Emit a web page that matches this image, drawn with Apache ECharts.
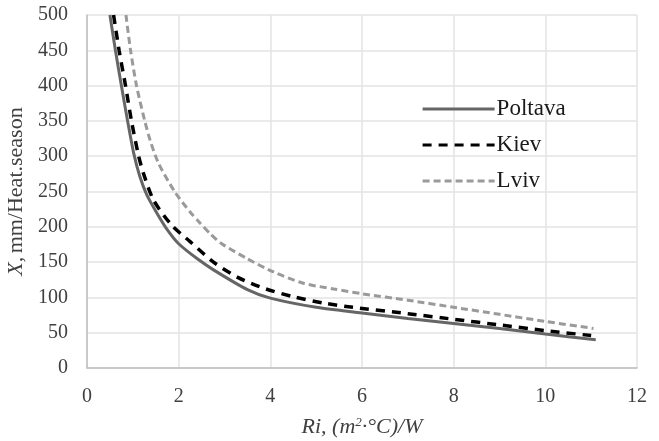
<!DOCTYPE html>
<html>
<head>
    <meta charset="utf-8" />
    <title>ri_chart</title>
    <script src="https://cdn.jsdelivr.net/npm/echarts@6/dist/echarts.min.js"></script>
    <style>
        html, body { margin: 0; padding: 0; background: #fff; }
        #container { width: 659px; height: 441px; }
    </style>
</head>
<body>
    <div id="container"></div>
</body>
</html>
<script>
    // values: [Ri, X]
    var poltava = [[0.5, 500], [0.62, 450], [0.75, 400], [0.88, 352], [1.02, 304], [1.15, 272], [1.3, 246],
        [1.52, 220], [1.75, 196], [2, 176], [2.4, 155], [2.76, 139], [3.5, 111], [4, 99], [5, 86], [6, 78],
        [7, 70], [8, 63], [9, 56], [10, 48], [11.1, 40]];
    var kiev = [[0.58, 500], [0.7, 450], [0.84, 400], [0.97, 350], [1.12, 302], [1.23, 276], [1.45, 238],
        [1.85, 202], [2.25, 179], [2.76, 150], [3.3, 128], [3.9, 112], [4.5, 101], [5.16, 92], [5.8, 86],
        [7, 77], [8, 69], [9, 61], [10, 53], [11, 46]];
    var lviv = [[0.85, 500], [0.95, 450], [1.08, 400], [1.26, 350], [1.38, 322], [1.56, 290], [1.92, 249],
        [2.25, 221], [2.47, 205], [2.69, 190], [2.94, 176], [3.49, 155], [4.07, 136], [4.72, 120], [5.38, 112],
        [6.02, 105], [7, 96], [8, 86], [9, 76], [10, 66], [11.05, 56]];
    var seriesNames = ["Poltava", "Kiev", "Lviv"];

    var font = "Liberation Serif";
    var myChart = echarts.init(document.getElementById("container"), null, { renderer: "canvas" });

    function line(name, data, color, width, type) {
        return {
            name: name, type: "line", data: data, smooth: 0.25,
            symbol: "none", showSymbol: false, clip: true,
            lineStyle: { color: color, width: width, type: type },
            itemStyle: { color: color }
        };
    }

    myChart.setOption({
        animation: false,
        backgroundColor: "#fff",
        grid: { left: 87, right: 22, top: 15, bottom: 73, outerBoundsMode: "none", containLabel: false },
        legend: {
            orient: "vertical", left: 416, top: 92, itemGap: 12,
            itemWidth: 72, itemHeight: 14,
            itemStyle: { opacity: 0 },
            lineStyle: { width: 3.2 },
            textStyle: { fontFamily: font, fontSize: 23, lineHeight: 24, color: "#1a1a1a", padding: [0, 0, 0, -3] },
            data: seriesNames
        },
        xAxis: {
            type: "value", min: 0, max: 12, interval: 2,
            name: "{i|Ri, (m}{s|2}{i|·°C)/W}", nameLocation: "middle", nameGap: 48,
            nameTextStyle: {
                rich: {
                    i: { fontFamily: font, fontStyle: "italic", fontSize: 22, color: "#404040" },
                    s: { fontFamily: font, fontStyle: "italic", fontSize: 13, color: "#404040", verticalAlign: "top", padding: [0, 0, 9, 0] }
                }
            },
            axisLine: { lineStyle: { color: "#bfbfbf", width: 1.5 } },
            axisTick: { show: false },
            axisLabel: { fontFamily: font, fontSize: 20, color: "#404040", margin: 19 },
            splitLine: { lineStyle: { color: "#e3e3e3", width: 1.5 } }
        },
        yAxis: {
            type: "value", min: 0, max: 500, interval: 50,
            name: "{i|X,} {n|mm/Heat.season}", nameLocation: "middle", nameGap: 51, nameRotate: 90,
            nameTextStyle: {
                rich: {
                    i: { fontFamily: font, fontStyle: "italic", fontSize: 22, color: "#404040" },
                    n: { fontFamily: font, fontSize: 22, color: "#404040" }
                }
            },
            axisLine: { show: true, lineStyle: { color: "#bfbfbf", width: 1.5 } },
            axisTick: { show: false },
            axisLabel: { fontFamily: font, fontSize: 20, color: "#404040", margin: 19 },
            splitLine: { lineStyle: { color: "#e3e3e3", width: 1.5 } }
        },
        series: [
            line(seriesNames[0], poltava, "#666666", 3, "solid"),
            line(seriesNames[1], kiev, "#000000", 3.5, [9, 7]),
            line(seriesNames[2], lviv, "#9a9a9a", 3, [7, 4])
        ]
    });
</script>
